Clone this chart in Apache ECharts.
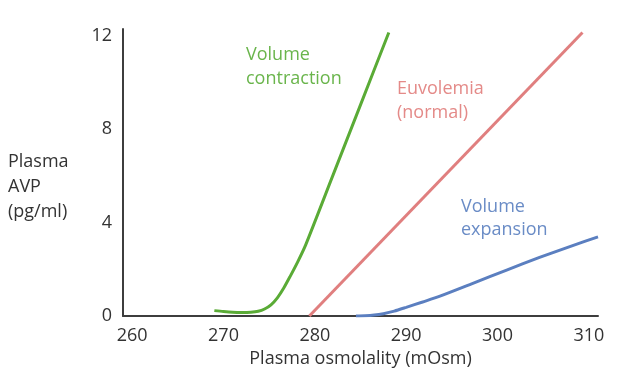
<!DOCTYPE html>
<html><head><meta charset="utf-8">
<script src="https://cdn.jsdelivr.net/npm/echarts@6/dist/echarts.min.js"></script>
<style>html,body{margin:0;padding:0;background:#fff}#c{width:625px;height:369px}</style>
</head><body><div id="c"></div>
<script>
// Data (plasma osmolality in mOsm, plasma AVP in pg/ml)
const xTicks = [260, 270, 280, 290, 300, 310];
const yTicks = [0, 4, 8, 12];
const contractionX = [269.0, 270.0, 271.0, 272.0, 273.0, 273.8, 274.5, 275.2, 275.9, 276.6, 277.3, 278.1, 279.0, 282.0, 285.0, 288.1];
const contractionY = [0.23, 0.19, 0.16, 0.15, 0.16, 0.2, 0.3, 0.48, 0.78, 1.2, 1.7, 2.3, 3.05, 6.05, 9.05, 12.15];
const euvolemiaX = [279.4, 309.3];
const euvolemiaY = [0, 12.15];
const expansionX = [284.5, 285.5, 286.5, 287.5, 288.7, 290.0, 291.8, 293.7, 297.3, 301.0, 304.6, 308.3, 311.0];
const expansionY = [0, 0.01, 0.04, 0.1, 0.21, 0.37, 0.6, 0.85, 1.40, 1.97, 2.51, 3.03, 3.39];
const seriesNames = ['Volume\ncontraction', 'Euvolemia\n(normal)', 'Volume\nexpansion'];
const xTitle = 'Plasma osmolality (mOsm)';
const yTitle = 'Plasma\nAVP\n(pg/ml)';

const zip = (a, b) => a.map((v, i) => [v, b[i]]);
const FONT = 'Open Sans';
const FS = 18;
const chart = echarts.init(document.getElementById('c'));
chart.setOption({
  animation: false,
  grid: {left: 123, right: 27, top: 29, bottom: 53, containLabel: false, outerBoundsMode: 'none'},
  xAxis: {
    type: 'value', min: 259, max: 311, interval: 1,
    splitLine: {show: false}, axisTick: {show: false},
    axisLine: {lineStyle: {color: '#3d3d3d', width: 2}},
    axisLabel: {color: '#333', fontSize: FS, fontFamily: FONT, margin: 11,
      formatter: v => xTicks.indexOf(Math.round(v)) >= 0 && Math.abs(v - Math.round(v)) < 1e-6 ? String(Math.round(v)) : ''},
    name: xTitle, nameLocation: 'middle', nameGap: 33,
    nameTextStyle: {color: '#333', fontSize: FS, fontFamily: FONT}
  },
  yAxis: {
    type: 'value', min: 0, max: 12.3, interval: 4,
    splitLine: {show: false}, axisTick: {show: false},
    axisLine: {show: true, lineStyle: {color: '#3d3d3d', width: 2}},
    axisLabel: {color: '#333', fontSize: FS, fontFamily: FONT, margin: 11,
      formatter: v => yTicks.indexOf(v) >= 0 ? String(v) : ''}
  },
  graphic: [
    {type: 'text', left: 8, top: 149, style: {text: yTitle, fill: '#333', font: FS + 'px "' + FONT + '"', lineHeight: 25}},
    {type: 'text', left: 246, top: 43, style: {text: seriesNames[0], fill: '#6ab54c', font: FS + 'px "' + FONT + '"', lineHeight: 24}},
    {type: 'text', left: 397, top: 77, style: {text: seriesNames[1], fill: '#e48a88', font: FS + 'px "' + FONT + '"', lineHeight: 24}},
    {type: 'text', left: 461, top: 195, style: {text: seriesNames[2], fill: '#6a8cc6', font: FS + 'px "' + FONT + '"', lineHeight: 23}}
  ],
  series: [
    {type: 'line', data: zip(contractionX, contractionY), smooth: 0.25, showSymbol: false,
      lineStyle: {color: '#5aab36', width: 3}},
    {type: 'line', data: zip(euvolemiaX, euvolemiaY), showSymbol: false,
      lineStyle: {color: '#e07f7f', width: 3}},
    {type: 'line', data: zip(expansionX, expansionY), smooth: 0.25, showSymbol: false,
      lineStyle: {color: '#5b7fc0', width: 3}}
  ]
});
</script></body></html>
